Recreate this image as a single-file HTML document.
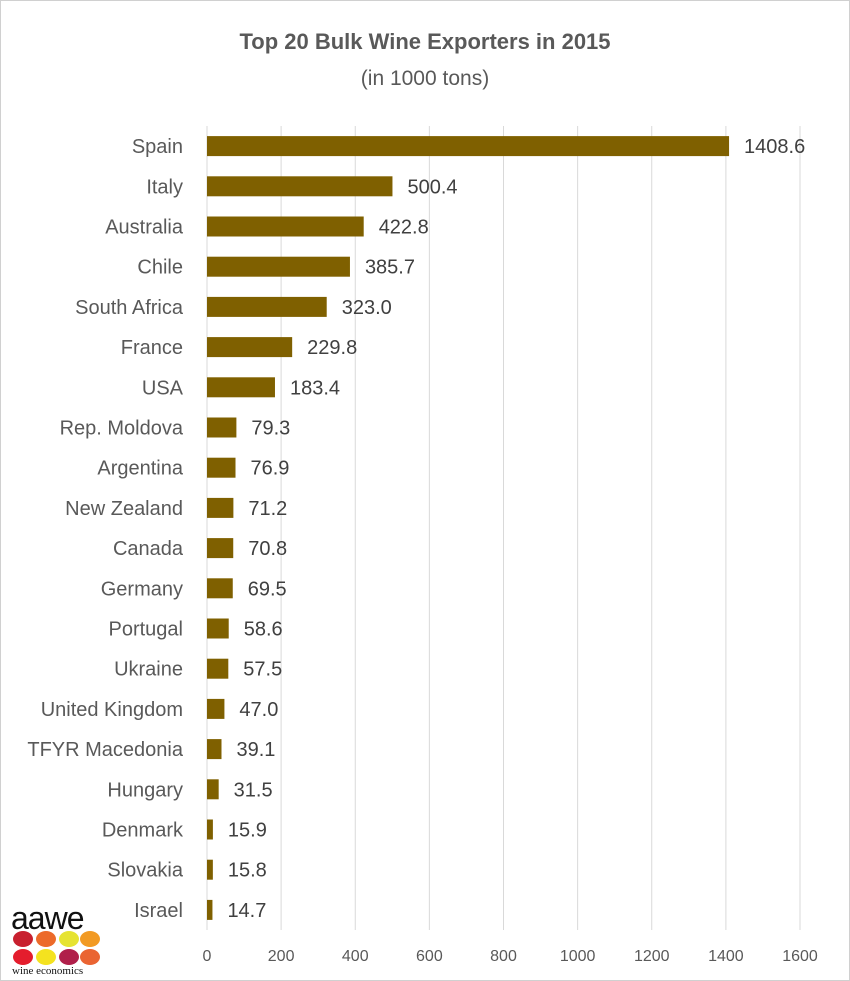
<!DOCTYPE html>
<html><head><meta charset="utf-8"><style>
body{margin:0;background:#fff}
svg{display:block;font-family:"Liberation Sans",sans-serif}
</style></head><body>
<svg id="c" width="850" height="981" viewBox="0 0 850 981">
<rect x="0.5" y="0.5" width="849" height="980" fill="#fff" stroke="#d0d0d0"/>
<text x="425" y="49" text-anchor="middle" font-size="22" font-weight="bold" fill="#595959">Top 20 Bulk Wine Exporters in 2015</text>
<text x="425" y="85" text-anchor="middle" font-size="21" fill="#595959">(in 1000 tons)</text>
<g id="grid"></g><g id="bars"></g>
<g>
<text x="11" y="929" font-size="32" fill="#111" letter-spacing="-1">aawe</text>
<ellipse cx="23" cy="939" rx="10" ry="8" fill="#c8202f"/><ellipse cx="46" cy="939" rx="10" ry="8" fill="#ec6a2a"/><ellipse cx="69" cy="939" rx="10" ry="8" fill="#e6e332"/><ellipse cx="90" cy="939" rx="10" ry="8" fill="#f29a23"/>
<ellipse cx="23" cy="957" rx="10" ry="8" fill="#e41d2d"/><ellipse cx="46" cy="957" rx="10" ry="8" fill="#f4e21f"/><ellipse cx="69" cy="957" rx="10" ry="8" fill="#b01f4a"/><ellipse cx="90" cy="957" rx="10" ry="8" fill="#ea6432"/>
<text x="12" y="974" font-size="11" font-family="Liberation Serif,serif" fill="#111">wine economics</text>
</g>
</svg>
<script>
const categories=["Spain","Italy","Australia","Chile","South Africa","France","USA","Rep. Moldova","Argentina","New Zealand","Canada","Germany","Portugal","Ukraine","United Kingdom","TFYR Macedonia","Hungary","Denmark","Slovakia","Israel"];
const values=[1408.6,500.4,422.8,385.7,323.0,229.8,183.4,79.3,76.9,71.2,70.8,69.5,58.6,57.5,47.0,39.1,31.5,15.9,15.8,14.7];
const ticks=[0,200,400,600,800,1000,1200,1400,1600];
const NS="http://www.w3.org/2000/svg";
const x0=207,x1=800,yTop=126,yBot=930;
const xs=v=>x0+(v/1600)*(x1-x0);
const step=(yBot-yTop)/categories.length;
const yc=i=>yTop+step*(i+0.5);
function mk(t,a,p){const e=document.createElementNS(NS,t);for(const k in a)e.setAttribute(k,a[k]);p.appendChild(e);return e;}
const g=document.getElementById('grid'),b=document.getElementById('bars');
ticks.forEach(t=>{
 const l=mk('line',{x1:xs(t),x2:xs(t),y1:yTop,y2:yBot,stroke:'#d9d9d9','stroke-width':1},g);
 
 
 const tx=mk('text',{x:xs(t),y:961,'text-anchor':'middle','font-size':16,fill:'#595959'},g);tx.textContent=t;
 
 
});
categories.forEach((c,i)=>{
 const y=yc(i);
 const r=mk('rect',{x:x0,y:y-10,width:xs(values[i])-x0,height:20,fill:'#7f6000'},b);
 
 
 const lb=mk('text',{x:183,y:y+7,'text-anchor':'end','font-size':20,fill:'#595959'},b);lb.textContent=c;
 
 
 const vl=mk('text',{x:xs(values[i])+15,y:y+7,'font-size':20,fill:'#404040'},b);vl.textContent=values[i].toFixed(1);
 
 
});
</script>
</body></html>
